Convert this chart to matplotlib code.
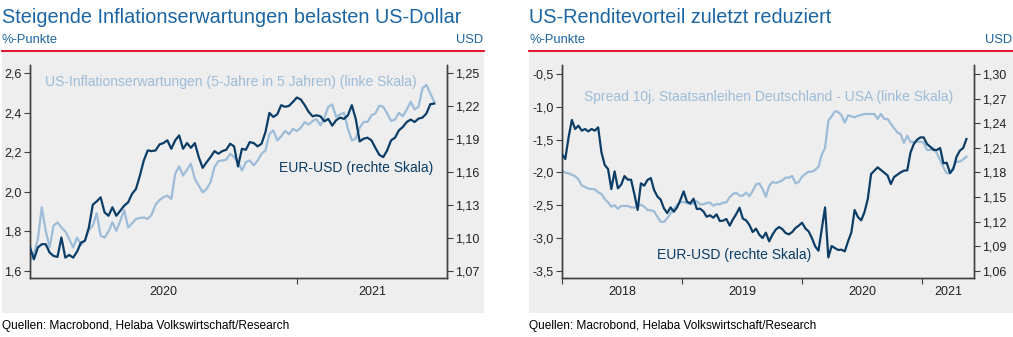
import matplotlib
matplotlib.use("Agg")
import matplotlib.pyplot as plt
import matplotlib.dates as mdates
import pandas as pd
from matplotlib.patches import Rectangle
from matplotlib.lines import Line2D
from matplotlib.ticker import FixedLocator, FuncFormatter

plt.rcParams["font.family"] = ["Liberation Sans", "DejaVu Sans"]

# --- left chart: US inflation expectations vs EUR-USD (every 4 days from 2020-04-04)
left_start = "2020-04-04"
left_step = "4D"
infl_5y5y = [
    1.651, 1.685, 1.761, 1.922, 1.803, 1.719, 1.829, 1.846, 1.820, 1.800,
    1.761, 1.719, 1.769, 1.732, 1.756, 1.807, 1.829, 1.892, 1.778, 1.769,
    1.800, 1.846, 1.803, 1.854, 1.908, 1.820, 1.841, 1.863, 1.868, 1.871,
    1.863, 1.885, 1.936, 1.959, 1.973, 1.981, 1.964, 2.092, 2.129, 2.083,
    2.112, 2.142, 2.066, 2.032, 1.998, 2.015, 2.049, 2.125, 2.156, 2.159,
    2.163, 2.193, 2.176, 2.151, 2.108, 2.151, 2.159, 2.134, 2.159, 2.193,
    2.210, 2.292, 2.312, 2.261, 2.281, 2.308, 2.292, 2.319, 2.308, 2.325,
    2.353, 2.341, 2.359, 2.368, 2.337, 2.376, 2.431, 2.442, 2.380, 2.392,
    2.400, 2.320, 2.261, 2.269, 2.325, 2.354, 2.354, 2.388, 2.397, 2.436,
    2.431, 2.397, 2.359, 2.366, 2.400, 2.383, 2.417, 2.456, 2.417, 2.431,
    2.524, 2.541, 2.498, 2.456,
]
eurusd_left = [
    1.0914, 1.0807, 1.0914, 1.0944, 1.0944, 1.0868, 1.0837, 1.0828, 1.1005, 1.0822,
    1.0846, 1.0822, 1.0877, 1.0959, 1.0975, 1.1097, 1.1304, 1.1334, 1.1371, 1.1234,
    1.1203, 1.1280, 1.1203, 1.1249, 1.1295, 1.1325, 1.1402, 1.1447, 1.1569, 1.1707,
    1.1798, 1.1792, 1.1798, 1.1853, 1.1865, 1.1890, 1.1813, 1.1890, 1.1935, 1.1813,
    1.1865, 1.1822, 1.1865, 1.1737, 1.1639, 1.1691, 1.1737, 1.1792, 1.1768, 1.1792,
    1.1804, 1.1859, 1.1835, 1.1652, 1.1813, 1.1804, 1.1874, 1.1865, 1.1835, 1.1859,
    1.1966, 1.2140, 1.2103, 1.2127, 1.2210, 1.2195, 1.2204, 1.2240, 1.2280, 1.2262,
    1.2210, 1.2149, 1.2109, 1.2118, 1.2109, 1.2063, 1.2085, 1.2024, 1.2073, 1.2097,
    1.2085, 1.2118, 1.2210, 1.2085, 1.1880, 1.1905, 1.1914, 1.1890, 1.1822, 1.1758,
    1.1737, 1.1798, 1.1890, 1.1914, 1.1981, 1.2012, 1.2057, 1.2079, 1.2057, 1.2088,
    1.2097, 1.2134, 1.2219, 1.2225,
]

# --- right chart: Bund-Treasury spread vs EUR-USD (every 10 days from 2018-01-01)
right_start = "2018-01-01"
right_step = "10D"
spread_10y = [
    -1.974, -2.005, -2.015, -2.035, -2.061, -2.107, -2.198, -2.223, -2.249, -2.254,
    -2.259, -2.305, -2.330, -2.407, -2.457, -2.523, -2.503, -2.554, -2.513, -2.513,
    -2.513, -2.534, -2.539, -2.518, -2.493, -2.523, -2.574, -2.579, -2.595, -2.676,
    -2.752, -2.757, -2.701, -2.625, -2.559, -2.498, -2.457, -2.452, -2.468, -2.488,
    -2.468, -2.442, -2.488, -2.488, -2.468, -2.462, -2.508, -2.483, -2.488, -2.462,
    -2.457, -2.381, -2.330, -2.310, -2.356, -2.356, -2.310, -2.366, -2.285, -2.183,
    -2.168, -2.254, -2.371, -2.208, -2.147, -2.162, -2.147, -2.122, -2.081, -2.081,
    -2.056, -2.168, -2.147, -2.066, -2.025, -1.990, -1.990, -1.964, -1.913, -1.730,
    -1.629, -1.212, -1.146, -1.069, -1.080, -1.130, -1.242, -1.130, -1.146, -1.161,
    -1.136, -1.125, -1.110, -1.110, -1.110, -1.110, -1.186, -1.110, -1.186, -1.186,
    -1.258, -1.329, -1.390, -1.420, -1.552, -1.441, -1.537, -1.537, -1.532, -1.532,
    -1.547, -1.659, -1.659, -1.629, -1.710, -1.812, -1.924, -2.015, -2.015, -1.924,
    -1.837, -1.837, -1.802, -1.761,
]
eurusd_right = [
    1.2024, 1.1963, 1.2227, 1.2439, 1.2329, 1.2370, 1.2309, 1.2329, 1.2300, 1.2329,
    1.2309, 1.2349, 1.2044, 1.1890, 1.1841, 1.1597, 1.1812, 1.1605, 1.1650, 1.1755,
    1.1711, 1.1711, 1.1536, 1.1341, 1.1666, 1.1638, 1.1707, 1.1731, 1.1585, 1.1507,
    1.1467, 1.1361, 1.1304, 1.1373, 1.1320, 1.1373, 1.1463, 1.1568, 1.1442, 1.1422,
    1.1479, 1.1353, 1.1357, 1.1324, 1.1259, 1.1276, 1.1247, 1.1288, 1.1206, 1.1211,
    1.1231, 1.1150, 1.1227, 1.1292, 1.1369, 1.1235, 1.1215, 1.1158, 1.1072, 1.1113,
    1.1040, 1.0999, 1.1064, 1.0958, 1.1040, 1.1101, 1.1133, 1.1109, 1.1060, 1.1044,
    1.1072, 1.1121, 1.1150, 1.1186, 1.1117, 1.1080, 1.0999, 1.0897, 1.0844, 1.1109,
    1.1373, 1.0763, 1.0901, 1.0877, 1.0853, 1.0857, 1.0836, 1.0958, 1.1068, 1.1341,
    1.1255, 1.1215, 1.1316, 1.1475, 1.1780, 1.1821, 1.1861, 1.1829, 1.1796, 1.1764,
    1.1658, 1.1743, 1.1772, 1.1800, 1.1821, 1.1825, 1.2044, 1.2146, 1.2199, 1.2227,
    1.2227, 1.2146, 1.2113, 1.2073, 1.2073, 1.2097, 1.1910, 1.1918, 1.1792, 1.1841,
    1.1991, 1.2065, 1.2097, 1.2207,
]

left_title = "Steigende Inflationserwartungen belasten US-Dollar"
right_title = "US-Renditevorteil zuletzt reduziert"
source_text = "Quellen: Macrobond, Helaba Volkswirtschaft/Research"

DARK = "#0b3d66"
LIGHT = "#9dbcd8"
TITLE_BLUE = "#1b65a3"
RED = "#e2001a"
GREY_BG = "#eeeeee"
SPINE = "#404040"

W, H = 1013, 337
fig = plt.figure(figsize=(W / 100, H / 100), dpi=100, facecolor="white")


def px_box(x0, y0, x1, y1):
    # pixel box (top-left origin) -> figure fraction [left, bottom, width, height]
    return [x0 / W, 1 - y1 / H, (x1 - x0) / W, (y1 - y0) / H]


def comma(fmt):
    return FuncFormatter(lambda v, p: format(v, fmt).replace(".", ","))


def panel_frame(x0, x1, title):
    fig.patches.append(Rectangle((x0 / W, 1 - 313 / H), (x1 - x0) / W, (313 - 51) / H,
                                 transform=fig.transFigure, facecolor=GREY_BG,
                                 edgecolor="none", zorder=-5))
    fig.lines.append(Line2D([x0 / W, x1 / W], [1 - 50.5 / H] * 2, transform=fig.transFigure,
                            color=RED, linewidth=1.3))
    fig.text(x0 / W, 1 - 23 / H, title, color=TITLE_BLUE, fontsize=14.3, va="baseline")
    fig.text(x0 / W, 1 - 43 / H, "%-Punkte", color=TITLE_BLUE, fontsize=9.3, va="baseline")
    fig.text((x1 - 1) / W, 1 - 43 / H, "USD", color=TITLE_BLUE, fontsize=9.3,
             va="baseline", ha="right")
    fig.text(x0 / W, 1 - 329 / H, source_text, color="black", fontsize=8.6, va="baseline")


def style_axes(ax, ax2, xmin, xmax):
    for a in (ax, ax2):
        a.set_facecolor("none")
        a.spines["top"].set_visible(False)
        for s in ("left", "right", "bottom"):
            a.spines[s].set_color(SPINE)
            a.spines[s].set_linewidth(1.0)
        a.tick_params(axis="y", direction="out", length=4, width=0.8, color=SPINE,
                      labelsize=9, labelcolor="#222222", pad=2)
    ax.set_xlim(xmin, xmax)
    # year boundaries as ticks, year labels centred in the visible span of each year
    years = range(xmin.year, xmax.year + 1)
    bounds = [pd.Timestamp(f"{y}-01-01") for y in years if pd.Timestamp(f"{y}-01-01") >= xmin]
    mids, labels = [], []
    for y in years:
        a = max(pd.Timestamp(f"{y}-01-01"), xmin)
        b = min(pd.Timestamp(f"{y + 1}-01-01"), xmax)
        mids.append(mdates.date2num(a) + (mdates.date2num(b) - mdates.date2num(a)) / 2)
        labels.append(str(y))
    ax.xaxis.set_major_locator(FixedLocator([mdates.date2num(b) for b in bounds]))
    ax.xaxis.set_major_formatter(FuncFormatter(lambda v, p: ""))
    ax.xaxis.set_minor_locator(FixedLocator(mids))
    ax.xaxis.set_minor_formatter(FuncFormatter(lambda v, p: labels[mids.index(v)] if v in mids else ""))
    ax.tick_params(axis="x", which="major", direction="out", length=4, width=0.8, color=SPINE)
    ax.tick_params(axis="x", which="minor", length=0, labelsize=9, labelcolor="#222222", pad=6)


# ---------------- left panel
panel_frame(2, 484, left_title)
axL = fig.add_axes(px_box(30, 65, 447, 277.7))
axL2 = axL.twinx()
dates_l = pd.date_range(left_start, periods=len(infl_5y5y), freq=left_step)
axL.plot(dates_l, infl_5y5y, color=LIGHT, linewidth=1.6, zorder=2)
axL2.plot(dates_l, eurusd_left, color=DARK, linewidth=1.6, zorder=3)
style_axes(axL, axL2, pd.Timestamp("2020-04-04"), pd.Timestamp("2021-06-03"))
axL.set_ylim(1.566, 2.642)
axL.set_yticks([1.6, 1.8, 2.0, 2.2, 2.4, 2.6])
axL.yaxis.set_major_formatter(comma(".1f"))
axL2.set_ylim(1.0639, 1.2576)
axL2.set_yticks([1.07, 1.10, 1.13, 1.16, 1.19, 1.22, 1.25])
axL2.yaxis.set_major_formatter(comma(".2f"))
axL.text(0.036, 0.92, "US-Inflationserwartungen (5-Jahre in 5 Jahren) (linke Skala)",
         transform=axL.transAxes, color=LIGHT, fontsize=10, va="center", ha="left")
axL.text(0.966, 0.516, "EUR-USD (rechte Skala)", transform=axL.transAxes,
         color=DARK, fontsize=10, va="center", ha="right", zorder=5)

# ---------------- right panel
panel_frame(529, 1013, right_title)
axR = fig.add_axes(px_box(562, 65, 974, 277.7))
axR2 = axR.twinx()
dates_r = pd.date_range(right_start, periods=len(spread_10y), freq=right_step)
axR.plot(dates_r, spread_10y, color=LIGHT, linewidth=1.6, zorder=2)
axR2.plot(dates_r, eurusd_right, color=DARK, linewidth=1.6, zorder=3)
style_axes(axR, axR2, pd.Timestamp("2018-01-01"), pd.Timestamp("2021-06-07"))
axR.set_ylim(-3.607, -0.363)
axR.set_yticks([-3.5, -3.0, -2.5, -2.0, -1.5, -1.0, -0.5])
axR.yaxis.set_major_formatter(comma(".1f"))
axR2.set_ylim(1.0515, 1.311)
axR2.set_yticks([1.06, 1.09, 1.12, 1.15, 1.18, 1.21, 1.24, 1.27, 1.30])
axR2.yaxis.set_major_formatter(comma(".2f"))
axR.text(0.053, 0.85, "Spread 10j. Staatsanleihen Deutschland - USA (linke Skala)",
         transform=axR.transAxes, color=LIGHT, fontsize=10, va="center", ha="left")
axR.text(0.231, 0.107, "EUR-USD (rechte Skala)", transform=axR.transAxes,
         color=DARK, fontsize=10, va="center", ha="left", zorder=5)

fig.savefig("out.png", dpi=100, facecolor="white")
